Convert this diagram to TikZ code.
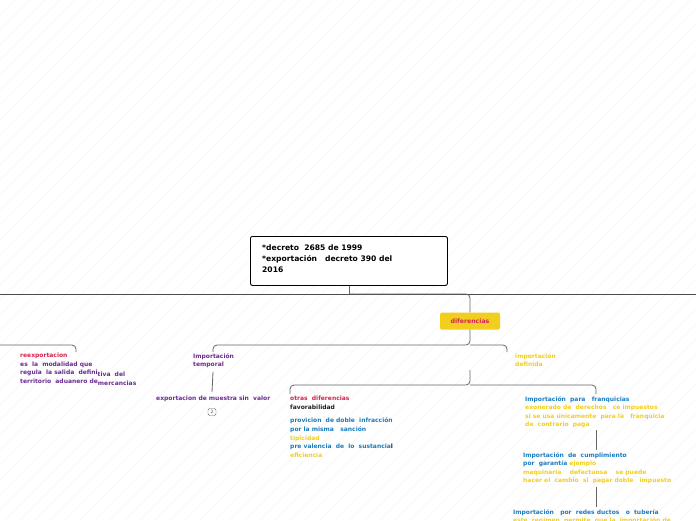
\documentclass[tikz,border=0pt]{standalone}
\usepackage{fontspec}
\setmainfont{DejaVu Sans}
\begin{document}
\begin{tikzpicture}[x=1pt,y=-1pt,
  every node/.style={font=\fontsize{6}{8.6}\selectfont\bfseries,inner sep=0pt,align=left,anchor=north west},
  conn/.style={draw=black!60,line width=0.8pt,rounded corners=4pt}]
\definecolor{cred}{HTML}{D42450}
\definecolor{cpur}{HTML}{6B2C91}
\definecolor{cblu}{HTML}{1B7DBF}
\definecolor{cyel}{HTML}{F2CF1E}
\definecolor{cdk}{HTML}{222222}
\useasboundingbox (0,0) rectangle (696,520);
\fill[white] (0,0) rectangle (696,520);
\foreach \i in {-520,-505,...,696} {\draw[black!6,line width=0.3pt] (\i,520) -- (\i+520,0);}
% root
\node[draw=black,line width=0.9pt,rounded corners=2pt,fill=white,minimum width=197pt,minimum height=49pt,anchor=north west] (root) at (250,236) {};
\node[font=\fontsize{7.6}{10.8}\selectfont\bfseries,text=black] (roott) at (262,245) {*decreto\ \ 2685 de 1999\\*exportación\ \ \ decreto 390 del\\2016};
\coordinate (h) at (349,294);
\draw[conn,line width=1pt] (root.south -| h) -- (h);
\draw[black!70,line width=1pt] (0,294) -- (696,294);
% diferencias
\node[fill=cyel,rounded corners=1.5pt,minimum width=60pt,minimum height=17pt,anchor=center,text=cred,font=\fontsize{6.2}{7}\selectfont\bfseries,align=center] (dif) at (470,321) {diferencias};
\draw[conn] (349,294) -| (dif.north);
% second level
\node[text=cpur] (imt) at (193,353) {Importación\\temporal};
\node[text=cyel] (imd) at (515,353) {importación\\definida};
\node (rex) at (20,353) {\textcolor{cred}{reexportacion}\\\textcolor{cpur}{es\ \ la\ \ modalidad que}\\\textcolor{cpur}{regula\ \ la salida\ \ defini}\raisebox{-1.5pt}{\textcolor{cpur}{tiva\ \ del}}\\\textcolor{cpur}{territorio\ \ aduanero de}\raisebox{-1.5pt}{\textcolor{cpur}{ mercancias}}};
\draw[conn] (dif.south) -- (470,345) -| (213,352);
\draw[conn] (470,345) -| (507,352);
\draw[conn] (0,345) -| (76,352);
% temporal child
\node[text=cpur] (exm) at (156,396) {exportacion de muestra sin\ \ valor};
\draw[conn] (213,372) -- (212,392);
\node[draw=black!60,rounded corners=1.5pt,minimum width=8pt,minimum height=7pt,anchor=center,font=\fontsize{4.5}{5}\selectfont,text=black!70] (n2) at (212,412) {2};
% definida children
\node (otr) at (290,396) {\textcolor{cred}{otras\ \ diferencias}\\\textcolor{cdk}{favorabilidad}\\[5pt]\textcolor{cblu}{provicion\ \ de doble\ \ infracción}\\\textcolor{cblu}{por la misma\ \ \ sanción}\\\textcolor{cyel}{tipicidad}\\\textcolor{cblu}{pre valencia\ \ de\ \ lo\ \ sustancia}\textcolor{cdk}{l}\\\textcolor{cyel}{eficiencia}};
\node (fra) at (525,396) {\textcolor{cblu}{Importación\ \ para\ \ \ franquicias}\\\textcolor{cyel}{exonerado de\ \ derechos\ \ \ ce impuestos}\\\textcolor{cyel}{si se usa únicamente\ \ para la\ \ \ franquicia}\\\textcolor{cyel}{de\ \ contrario\ \ paga}};
\draw[conn] (470,370) -- (470,385) -| (290,394);
\draw[conn] (470,385) -| (596,394);
\node (cum) at (523,452) {\textcolor{cblu}{Importación\ \ de\ \ cumplimiento}\\\textcolor{cblu}{por\ \ garantía}\ \textcolor{cyel}{ejemplo}\\\textcolor{cyel}{maquinaria\ \ \ \ defectuosa\ \ \ \ se puede}\\\textcolor{cyel}{hacer el\ \ cambio\ \ si\ \ pagar doble\ \ \ impuesto}};
\draw[conn] (596,430) -- (596,450);
\node (red) at (513,509) {\textcolor{cblu}{Importación\ \ \ por\ \ redes ductos\ \ \ o\ \ tubería}\\\textcolor{cyel}{este\ \ regimen\ \ permite\ \ que la\ \ importación de}};
\draw[conn] (596,487) -- (596,507);
\end{tikzpicture}
\end{document}
